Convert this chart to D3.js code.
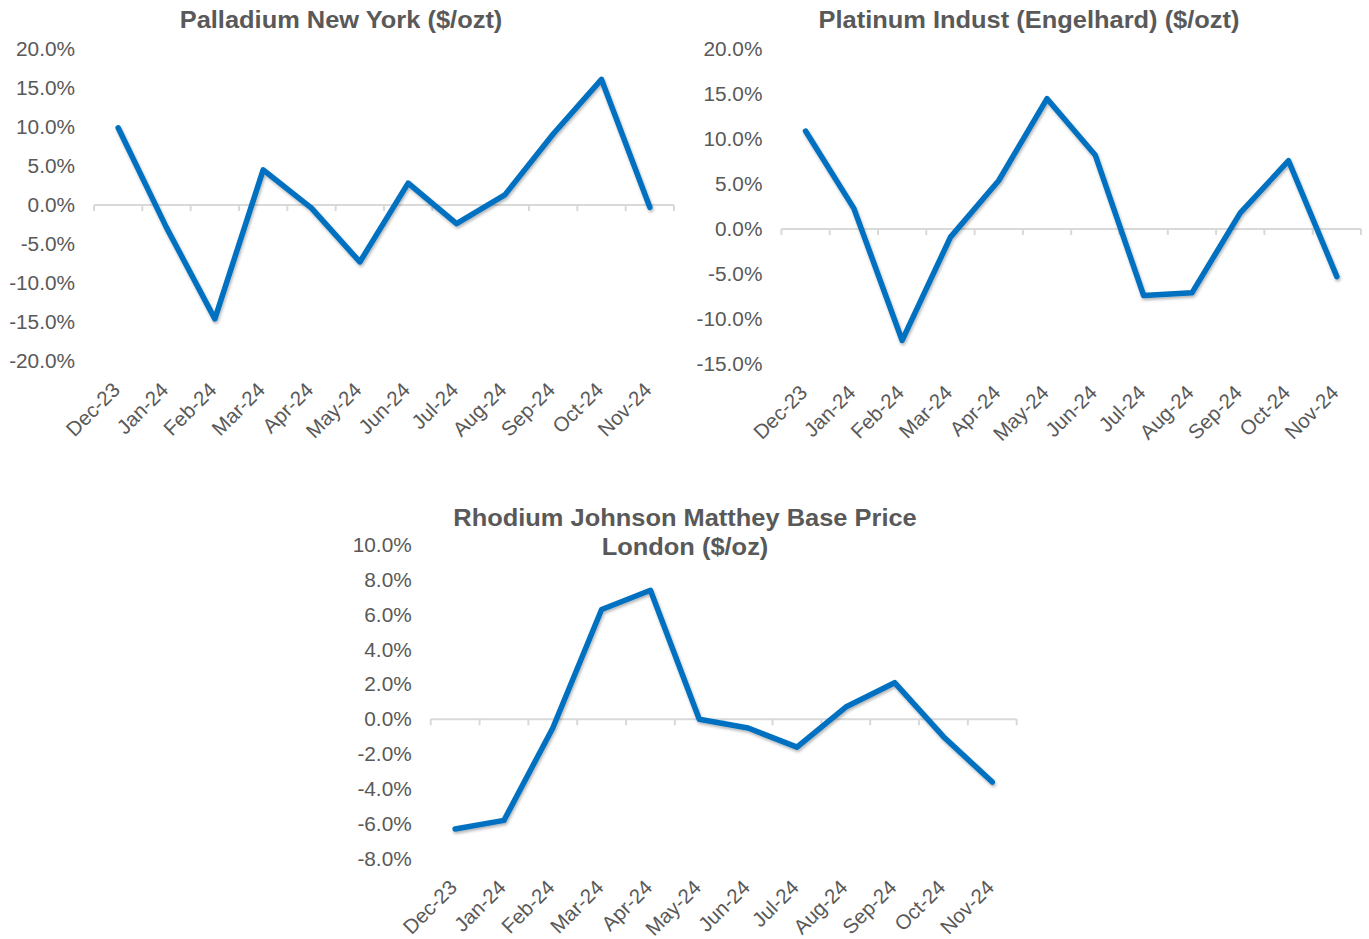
<!DOCTYPE html>
<html>
<head>
<meta charset="utf-8">
<script src="https://cdn.jsdelivr.net/npm/d3@7"></script>
<style>
  body { margin: 0; background: #fff; }
  svg { display: block; font-family: "Liberation Sans", Arial, sans-serif; }
</style>
</head>
<body>
<svg id="canvas" width="1369" height="939"></svg>
<script>
// monthly % change
const months = ["Dec-23", "Jan-24", "Feb-24", "Mar-24", "Apr-24", "May-24",
  "Jun-24", "Jul-24", "Aug-24", "Sep-24", "Oct-24", "Nov-24"];

const palladium = [9.9, -2.9, -14.6, 4.5, -0.4, -7.3, 2.8, -2.4, 1.3, 9.1, 16.1, -0.3];
const platinum = [10.9, 2.3, -12.4, -0.9, 5.4, 14.5, 8.2, -7.4, -7.1, 1.8, 7.6, -5.3];
const rhodium = [-6.3, -5.8, -0.5, 6.3, 7.4, 0.0, -0.5, -1.6, 0.7, 2.1, -1.0, -3.6];

const palladiumTicks = [20, 15, 10, 5, 0, -5, -10, -15, -20];
const platinumTicks = [20, 15, 10, 5, 0, -5, -10, -15];
const rhodiumTicks = [10, 8, 6, 4, 2, 0, -2, -4, -6, -8];

const canvas = d3.select("#canvas");
const textColor = "#595959";
const lineColor = "#0070C0";

const defs = canvas.append("defs");
defs.append("filter")
  .attr("id", "shadow")
  .attr("x", "-10%").attr("y", "-10%")
  .attr("width", "120%").attr("height", "120%")
  .append("feDropShadow")
  .attr("dx", 1).attr("dy", 2)
  .attr("stdDeviation", 1.5)
  .attr("flood-color", "#000")
  .attr("flood-opacity", 0.3);

const drawChart = (cfg) => {
  const g = canvas.append("g");

  const x = d3.scaleBand().domain(months).range([cfg.left, cfg.right]).padding(0);
  const y = d3.scaleLinear().domain(d3.extent(cfg.ticks)).range([cfg.bottom, cfg.top]);
  const cx = (d) => x(d) + x.bandwidth() / 2;

  // title
  g.selectAll("text.title")
    .data(cfg.title)
    .enter()
    .append("text")
    .attr("class", "title")
    .attr("transform", (d, i) => `translate(${cfg.titleX},${cfg.titleY + i * 29}) scale(1.06,1)`)
    .attr("text-anchor", "middle")
    .attr("font-size", 24)
    .attr("font-weight", "bold")
    .attr("fill", textColor)
    .text((d) => d);

  // y labels
  g.selectAll("text.ylab")
    .data(cfg.ticks)
    .enter()
    .append("text")
    .attr("class", "ylab")
    .attr("transform", (d) => `translate(${cfg.left - 19},${y(d)}) scale(1.04,1)`)
    .attr("dy", "0.35em")
    .attr("text-anchor", "end")
    .attr("font-size", 20)
    .attr("fill", textColor)
    .text((d) => d.toFixed(1) + "%");

  // zero axis line + tick marks
  g.append("line")
    .attr("x1", cfg.left).attr("x2", cfg.right)
    .attr("y1", y(0)).attr("y2", y(0))
    .attr("stroke", "#D9D9D9")
    .attr("stroke-width", 2);

  const tickPos = months.map((m) => x(m)).concat([cfg.right]);
  g.selectAll("line.tick")
    .data(tickPos)
    .enter()
    .append("line")
    .attr("class", "tick")
    .attr("x1", (d) => d).attr("x2", (d) => d)
    .attr("y1", y(0)).attr("y2", y(0) + 6)
    .attr("stroke", "#D9D9D9")
    .attr("stroke-width", 2);

  // x labels
  g.selectAll("text.xlab")
    .data(months)
    .enter()
    .append("text")
    .attr("class", "xlab")
    .attr("transform", (d) => `translate(${cx(d) - 2},${cfg.bottom + 25}) rotate(-45)`)
    .attr("dy", "0.35em")
    .attr("text-anchor", "end")
    .attr("font-size", 20.5)
    .attr("fill", textColor)
    .text((d) => d);

  // series line
  const line = d3.line()
    .x((d, i) => cx(months[i]))
    .y((d) => y(d));

  g.append("path")
    .datum(cfg.values)
    .attr("d", line)
    .attr("fill", "none")
    .attr("stroke", lineColor)
    .attr("stroke-width", 5.5)
    .attr("stroke-linejoin", "round")
    .attr("stroke-linecap", "round")
    .attr("filter", "url(#shadow)");
};

drawChart({
  title: ["Palladium New York ($/ozt)"],
  titleX: 341, titleY: 28,
  values: palladium, ticks: palladiumTicks,
  left: 94, right: 674, top: 49, bottom: 361
});

drawChart({
  title: ["Platinum Indust (Engelhard) ($/ozt)"],
  titleX: 1029, titleY: 28,
  values: platinum, ticks: platinumTicks,
  left: 781.4, right: 1361, top: 49.3, bottom: 363.8
});

drawChart({
  title: ["Rhodium Johnson Matthey Base Price", "London ($/oz)"],
  titleX: 685, titleY: 526,
  values: rhodium, ticks: rhodiumTicks,
  left: 430.7, right: 1016.7, top: 545, bottom: 858.7
});
</script>
</body>
</html>
